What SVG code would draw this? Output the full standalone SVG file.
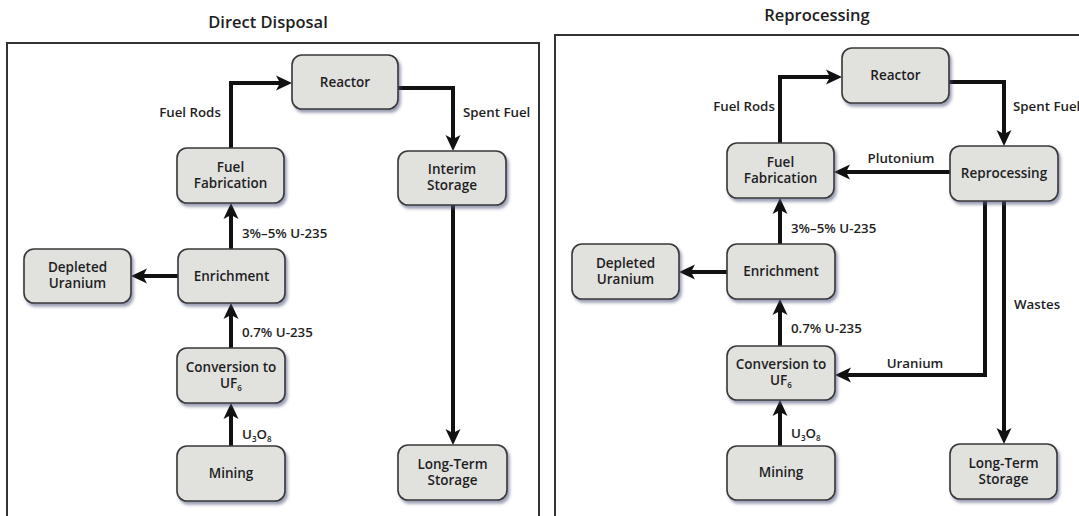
<svg xmlns="http://www.w3.org/2000/svg" width="1079" height="516" viewBox="0 0 1079 516">
<style>
text{font-family:"Open Sans","Liberation Sans",sans-serif;font-weight:600;fill:#1e1e1e}
.t{font-size:13.3px}
.title{font-size:16.5px;text-anchor:middle}
.n rect{fill:#e1e1de;stroke:#383838;stroke-width:1.6}
.n text{font-size:13.5px;text-anchor:middle}
.frame{fill:none;stroke:#333;stroke-width:2}
.c path{fill:none;stroke:#111;stroke-width:4;stroke-linejoin:miter}
.m{text-anchor:middle}
.sub{font-size:8px}
</style>
<defs>
<filter id="sh" x="-20%" y="-20%" width="150%" height="160%">
<feDropShadow dx="2" dy="3" stdDeviation="1.8" flood-color="#4a5078" flood-opacity="0.55"/>
</filter>
<marker id="ah" markerUnits="userSpaceOnUse" markerWidth="20" markerHeight="20" viewBox="0 -10 20 20" refX="10" refY="0" orient="auto">
<path d="M16,0 L0,-7.5 L4,0 L0,7.5 Z" fill="#111"/>
</marker>
</defs>
<rect width="1079" height="516" fill="#fff"/>

<g id="left-panel">
<rect class="frame" x="7" y="43" width="532" height="490"/>
<text class="title" x="268" y="28">Direct Disposal</text>
</g>
<g id="right-panel">
<rect class="frame" x="555" y="35" width="540" height="500"/>
<text class="title" x="817" y="21">Reprocessing</text>
</g>

<g id="connectors" class="c">
<path d="M231,148 V83 H286" marker-end="url(#ah)"/>
<path d="M398,88 H453 V145" marker-end="url(#ah)"/>
<path d="M231,249 V209" marker-end="url(#ah)"/>
<path d="M178,276 H137" marker-end="url(#ah)"/>
<path d="M231,348 V309" marker-end="url(#ah)"/>
<path d="M231,446 V409" marker-end="url(#ah)"/>
<path d="M453,205 V439" marker-end="url(#ah)"/>

<path d="M780,143 V77 H836" marker-end="url(#ah)"/>
<path d="M949,82 H1004 V140" marker-end="url(#ah)"/>
<path d="M950,172 H840" marker-end="url(#ah)"/>
<path d="M985,201 V375 H841" marker-end="url(#ah)"/>
<path d="M1004,201 V438" marker-end="url(#ah)"/>
<path d="M780,244 V204" marker-end="url(#ah)"/>
<path d="M727,272 H685" marker-end="url(#ah)"/>
<path d="M780,346 V305" marker-end="url(#ah)"/>
<path d="M780,446 V406" marker-end="url(#ah)"/>
</g>

<g id="labels" class="t">
<text class="t m" x="190" y="117">Fuel Rods</text>
<text class="t" x="463" y="117">Spent Fuel</text>
<text class="t" x="242" y="238">3%–5% U-235</text>
<text class="t" x="242" y="337">0.7% U-235</text>
<text class="t" x="242" y="439">U<tspan class="sub" dy="3">3</tspan><tspan dy="-3">O</tspan><tspan class="sub" dy="3">8</tspan></text>

<text class="t m" x="744" y="111">Fuel Rods</text>
<text class="t" x="1013" y="111">Spent Fuel</text>
<text class="t m" x="901" y="163">Plutonium</text>
<text class="t" x="791" y="233">3%–5% U-235</text>
<text class="t" x="791" y="333">0.7% U-235</text>
<text class="t" x="791" y="438">U<tspan class="sub" dy="3">3</tspan><tspan dy="-3">O</tspan><tspan class="sub" dy="3">8</tspan></text>
<text class="t m" x="915" y="368">Uranium</text>
<text class="t" x="1014" y="309">Wastes</text>
</g>

<g id="L-reactor" class="n"><rect x="292" y="55" width="106" height="54" rx="10" filter="url(#sh)"/><text x="345" y="87">Reactor</text></g>
<g id="L-fuelfab" class="n"><rect x="177" y="148" width="107" height="55" rx="10" filter="url(#sh)"/><text x="230.5" y="172">Fuel</text><text x="230.5" y="188">Fabrication</text></g>
<g id="L-interim" class="n"><rect x="398" y="151" width="108" height="54" rx="10" filter="url(#sh)"/><text x="452" y="174">Interim</text><text x="452" y="190">Storage</text></g>
<g id="L-depleted" class="n"><rect x="24" y="249" width="107" height="54" rx="10" filter="url(#sh)"/><text x="77.5" y="272">Depleted</text><text x="77.5" y="288">Uranium</text></g>
<g id="L-enrich" class="n"><rect x="178" y="249" width="107" height="54" rx="10" filter="url(#sh)"/><text x="231.5" y="281">Enrichment</text></g>
<g id="L-conv" class="n"><rect x="177" y="348" width="108" height="55" rx="10" filter="url(#sh)"/><text x="231" y="372">Conversion to</text><text x="231" y="388">UF<tspan class="sub" dy="3">6</tspan></text></g>
<g id="L-mining" class="n"><rect x="177" y="446" width="108" height="55" rx="10" filter="url(#sh)"/><text x="231" y="478">Mining</text></g>
<g id="L-longterm" class="n"><rect x="398" y="445" width="109" height="55" rx="10" filter="url(#sh)"/><text x="452.5" y="469">Long-Term</text><text x="452.5" y="485">Storage</text></g>

<g id="R-reactor" class="n"><rect x="842" y="48" width="107" height="55" rx="10" filter="url(#sh)"/><text x="895.5" y="80">Reactor</text></g>
<g id="R-fuelfab" class="n"><rect x="727" y="143" width="107" height="55" rx="10" filter="url(#sh)"/><text x="780.5" y="167">Fuel</text><text x="780.5" y="183">Fabrication</text></g>
<g id="R-reproc" class="n"><rect x="950" y="146" width="108" height="55" rx="10" filter="url(#sh)"/><text x="1004" y="178">Reprocessing</text></g>
<g id="R-depleted" class="n"><rect x="572" y="244" width="107" height="55" rx="10" filter="url(#sh)"/><text x="625.5" y="268">Depleted</text><text x="625.5" y="284">Uranium</text></g>
<g id="R-enrich" class="n"><rect x="727" y="244" width="108" height="55" rx="10" filter="url(#sh)"/><text x="781" y="276">Enrichment</text></g>
<g id="R-conv" class="n"><rect x="727" y="346" width="108" height="54" rx="10" filter="url(#sh)"/><text x="781" y="369">Conversion to</text><text x="781" y="385">UF<tspan class="sub" dy="3">6</tspan></text></g>
<g id="R-mining" class="n"><rect x="727" y="446" width="108" height="54" rx="10" filter="url(#sh)"/><text x="781" y="477">Mining</text></g>
<g id="R-longterm" class="n"><rect x="950" y="444" width="107" height="55" rx="10" filter="url(#sh)"/><text x="1003.5" y="468">Long-Term</text><text x="1003.5" y="484">Storage</text></g>
</svg>
